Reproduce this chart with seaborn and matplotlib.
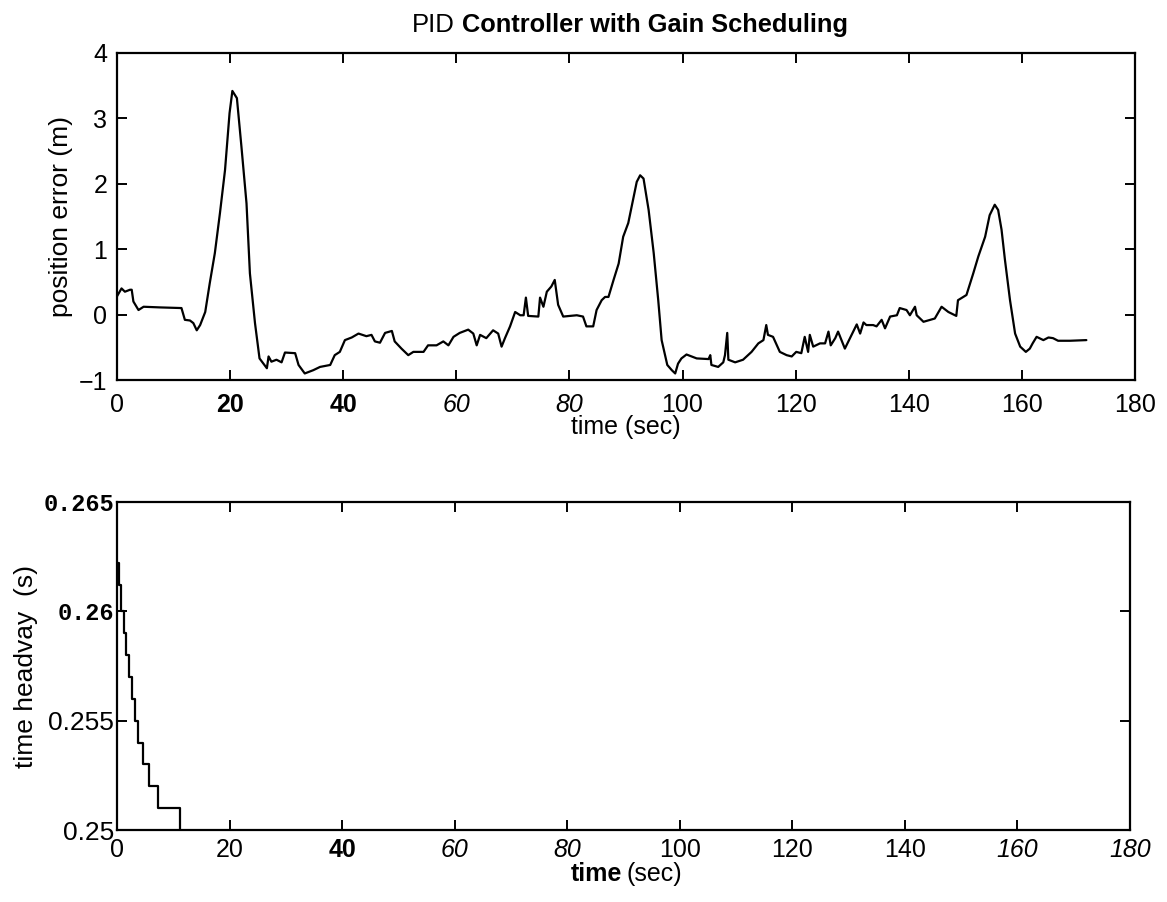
import numpy as np
import pandas as pd
import matplotlib
matplotlib.use("Agg")
import matplotlib.pyplot as plt
import seaborn as sns

# =========================
# data
# =========================
pe_time = [0, 0.8, 1.4, 2.3, 2.6, 2.9, 3.8, 4.7, 7.6, 11.4, 12.0, 12.9, 13.5, 14.1, 14.7,
           15.6, 16.4, 17.3, 18.2, 19.1, 19.9, 20.4, 21.2, 22.0, 22.9, 23.5, 24.4, 25.2,
           26.5, 26.8, 27.3, 28.2, 29.1, 29.7, 31.5, 32.1, 33.2, 34.7, 35.9, 37.7, 38.5,
           39.4, 40.3, 41.5, 42.7, 44.1, 45.0, 45.6, 46.5, 47.4, 48.6, 49.1, 50.3, 51.5,
           52.4, 54.2, 55.0, 56.5, 57.7, 58.6, 59.5, 60.6, 62.1, 63.0, 63.6, 64.2, 65.3,
           66.5, 67.4, 68.0, 68.6, 69.5, 70.4, 71.3, 71.9, 72.3, 72.7, 74.5, 74.8, 75.4,
           76.0, 76.8, 77.4, 78.0, 78.9, 81.3, 82.4, 83.0, 84.2, 84.8, 85.7, 86.3, 86.9,
           87.8, 88.7, 89.5, 90.4, 91.0, 91.9, 92.5, 93.1, 94.0, 94.9, 95.7, 96.3, 97.3,
           98.1, 98.7, 99.2, 99.8, 100.7, 102.5, 104.6, 104.9, 105.1, 106.3, 107.2, 107.5,
           107.9, 108.1, 109.3, 110.7, 112.2, 113.4, 114.3, 114.8, 115.1, 116.0, 117.2,
           118.4, 119.3, 120.1, 121.0, 121.6, 122.2, 122.5, 123.1, 124.3, 125.2, 125.8,
           126.2, 127.0, 127.5, 128.1, 128.7, 129.6, 130.8, 131.4, 132.0, 132.5, 133.7,
           134.3, 135.2, 135.8, 136.7, 137.9, 138.4, 139.6, 140.2, 141.1, 141.4, 142.6,
           144.6, 145.8, 147.0, 148.4, 148.7, 150.2, 151.4, 152.3, 153.5, 154.3, 155.2,
           155.8, 156.4, 157.0, 157.9, 158.8, 159.7, 160.7, 161.4, 161.9, 162.6, 163.8,
           164.7, 165.5, 166.4, 168.5, 171.4]
pe_value = [0.28, 0.40, 0.35, 0.38, 0.38, 0.20, 0.07, 0.12, 0.11, 0.10, -0.08, -0.09, -0.13,
            -0.24, -0.16, 0.04, 0.48, 0.94, 1.55, 2.21, 3.08, 3.42, 3.31, 2.57, 1.70, 0.63,
            -0.13, -0.67, -0.82, -0.64, -0.72, -0.69, -0.73, -0.58, -0.59, -0.77, -0.90,
            -0.85, -0.80, -0.77, -0.62, -0.57, -0.39, -0.35, -0.29, -0.33, -0.31, -0.41,
            -0.43, -0.28, -0.25, -0.41, -0.52, -0.62, -0.57, -0.57, -0.47, -0.47, -0.41,
            -0.47, -0.34, -0.28, -0.23, -0.29, -0.47, -0.31, -0.36, -0.24, -0.29, -0.49,
            -0.36, -0.18, 0.04, -0.01, -0.01, 0.26, -0.02, -0.03, 0.26, 0.12, 0.35, 0.43,
            0.53, 0.15, -0.03, -0.01, -0.03, -0.18, -0.18, 0.07, 0.22, 0.27, 0.27, 0.53,
            0.78, 1.19, 1.40, 1.65, 2.03, 2.13, 2.08, 1.60, 0.94, 0.22, -0.39, -0.77, -0.85,
            -0.90, -0.75, -0.67, -0.61, -0.67, -0.68, -0.62, -0.77, -0.80, -0.73, -0.62,
            -0.28, -0.69, -0.73, -0.69, -0.57, -0.44, -0.39, -0.16, -0.31, -0.34, -0.57,
            -0.62, -0.64, -0.57, -0.59, -0.34, -0.57, -0.31, -0.49, -0.44, -0.44, -0.26,
            -0.47, -0.36, -0.26, -0.39, -0.52, -0.36, -0.15, -0.29, -0.12, -0.16, -0.16,
            -0.18, -0.08, -0.21, -0.03, -0.01, 0.10, 0.07, -0.01, 0.12, -0.01, -0.11, -0.06,
            0.12, 0.04, -0.02, 0.22, 0.30, 0.63, 0.89, 1.19, 1.52, 1.68, 1.60, 1.30, 0.84,
            0.22, -0.29, -0.49, -0.57, -0.52, -0.44, -0.34, -0.39, -0.35, -0.36, -0.40,
            -0.40, -0.39]

hw_time = [0, 0.3, 0.7, 1.2, 1.6, 2.1, 2.7, 3.2, 3.8, 4.7, 5.6, 7.2, 11.2]
hw_value = [0.2622, 0.2612, 0.2600, 0.2590, 0.2580, 0.2570, 0.2560, 0.2550,
            0.2540, 0.2530, 0.2520, 0.2510, 0.2500]

x_ticks = [0, 20, 40, 60, 80, 100, 120, 140, 160, 180]
top_yticks = [-1, 0, 1, 2, 3, 4]
bot_yticks = [0.25, 0.255, 0.26, 0.265]
bot_ylabels = ["0.25", "0.255", "0.26", "0.265"]

# scan made the tick fonts inconsistent: (weight, style) per label
top_xfont = [("normal", "normal"), ("bold", "normal"), ("bold", "normal"),
             ("normal", "italic"), ("normal", "italic"), ("normal", "normal"),
             ("normal", "normal"), ("normal", "normal"), ("normal", "normal"),
             ("normal", "normal")]
bot_xfont = [("normal", "normal"), ("normal", "normal"), ("bold", "normal"),
             ("normal", "italic"), ("normal", "italic"), ("normal", "normal"),
             ("normal", "normal"), ("normal", "normal"), ("normal", "italic"),
             ("normal", "italic")]

df_pe = pd.DataFrame({"time": pe_time, "err": pe_value})
df_hw = pd.DataFrame({"time": hw_time, "hw": hw_value})

# =========================
# style
# =========================
sns.set_style("ticks")
plt.rcParams["font.family"] = ["Liberation Sans", "DejaVu Sans"]
plt.rcParams["axes.linewidth"] = 1.6
plt.rcParams["axes.edgecolor"] = "black"
plt.rcParams["axes.labelcolor"] = "black"
plt.rcParams["text.color"] = "black"
for k in ("xtick", "ytick"):
    plt.rcParams[k + ".direction"] = "in"
    plt.rcParams[k + ".major.size"] = 7
    plt.rcParams[k + ".major.width"] = 1.4
    plt.rcParams[k + ".color"] = "black"
    plt.rcParams[k + ".labelcolor"] = "black"
    plt.rcParams[k + ".labelsize"] = 18

fig = plt.figure(figsize=(11.67, 9.02), dpi=100)
ax1 = fig.add_axes([117 / 1167, 1 - 380 / 902, 1018 / 1167, 327 / 902])
ax2 = fig.add_axes([117 / 1167, 1 - 830 / 902, 1013 / 1167, 328 / 902])

# =========================
# top: position error
# =========================
sns.lineplot(data=df_pe, x="time", y="err", ax=ax1, color="black", linewidth=1.6,
             sort=False, estimator=None)
ax1.set_xlim(0, 180)
ax1.set_ylim(-1, 4)
ax1.set_xticks(x_ticks)
ax1.set_xticklabels([str(v) for v in x_ticks])
ax1.set_yticks(top_yticks)
ax1.tick_params(top=True, right=True)
ax1.tick_params(axis="x", pad=9)
ax1.tick_params(axis="y", pad=7)
ax1.set_xlabel("time (sec)", fontsize=18, labelpad=-1)
ax1.set_ylabel("position error (m)", fontsize=19, labelpad=4)
for lab, (w, s) in zip(ax1.get_xticklabels(), top_xfont):
    lab.set_fontweight(w)
    lab.set_fontstyle(s)

# =========================
# bottom: time headway
# =========================
sns.lineplot(data=df_hw, x="time", y="hw", ax=ax2, color="black", linewidth=1.6,
             drawstyle="steps-post", sort=False, estimator=None)
ax2.set_xlim(0, 180)
ax2.set_ylim(0.25, 0.265)
ax2.set_xticks(x_ticks)
ax2.set_xticklabels([str(v) for v in x_ticks])
ax2.set_yticks(bot_yticks)
ax2.set_yticklabels(bot_ylabels)
ax2.tick_params(top=True, right=True)
ax2.tick_params(axis="x", pad=6)
ax2.tick_params(axis="y", pad=2)
for lab, (w, s) in zip(ax2.get_xticklabels(), bot_xfont):
    lab.set_fontweight(w)
    lab.set_fontstyle(s)
for lab in ax2.get_yticklabels():
    lab.set_fontsize(19)
    if lab.get_text() in ("0.265", "0.26"):
        lab.set_family(["Liberation Mono", "DejaVu Sans Mono"])
        lab.set_fontweight("bold")
        lab.set_fontsize(17)
ax2.set_xlabel("")
ax2.set_ylabel("time headvay  (s)", fontsize=19, labelpad=4)

# x label of the lower panel: "time" bold, "(sec)" plain
fig.text(0.5335, 1 - 881 / 902, "time", fontsize=18, fontweight="bold",
         ha="right", va="baseline")
fig.text(0.5370, 1 - 881 / 902, "(sec)", fontsize=18, ha="left", va="baseline")

# title: "PID" plain, rest bold
fig.text(412 / 1167, 1 - 32 / 902, "PID", fontsize=18.5, ha="left", va="baseline")
fig.text(462 / 1167, 1 - 32 / 902, "Controller with Gain Scheduling", fontsize=18.3,
         fontweight="bold", ha="left", va="baseline")

fig.savefig("out.png", dpi=100)
plt.close(fig)
